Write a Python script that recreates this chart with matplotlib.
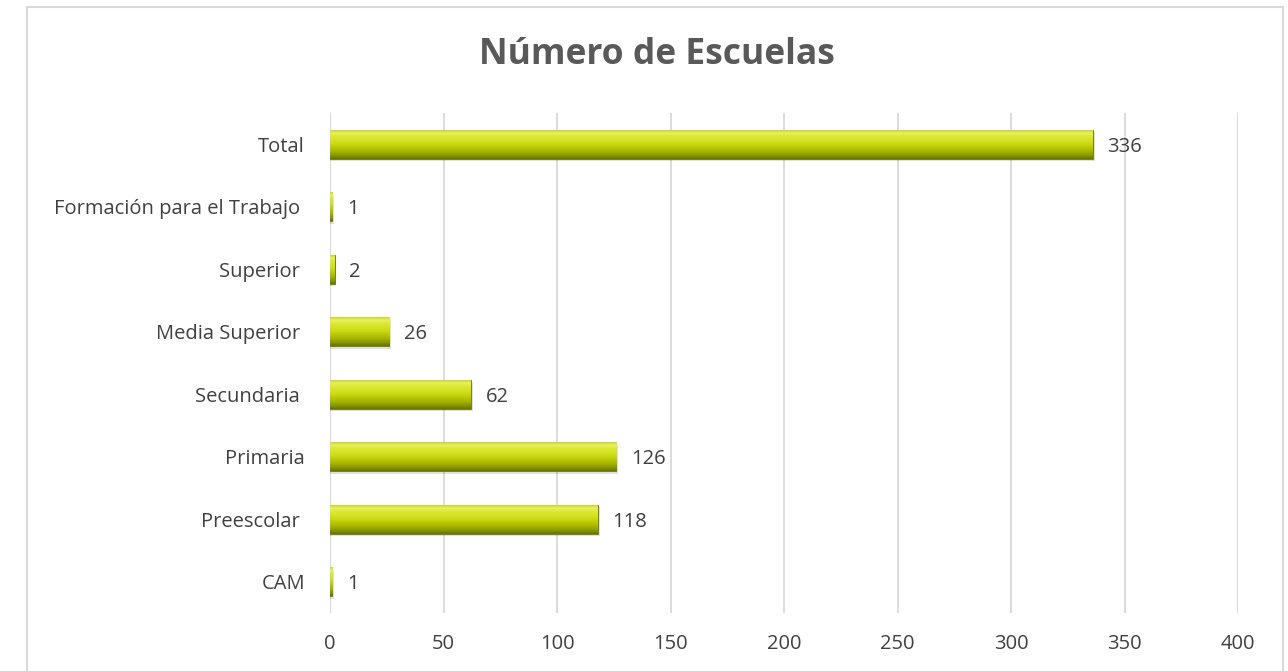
import numpy as np
import matplotlib
matplotlib.use('Agg')
import matplotlib.pyplot as plt
from matplotlib.patches import Rectangle
from matplotlib.colors import LinearSegmentedColormap

categories = ['CAM', 'Preescolar', 'Primaria', 'Secundaria', 'Media Superior',
              'Superior', 'Formación para el Trabajo', 'Total']
schools = [1, 118, 126, 62, 26, 2, 1, 336]
x_ticks = [0, 50, 100, 150, 200, 250, 300, 350, 400]

plt.rcParams['font.family'] = ['Open Sans', 'DejaVu Sans']
text_color = '#404040'

fig = plt.figure(figsize=(12.88, 6.71), dpi=100)
fig.patches.append(Rectangle((27 / 1288, -0.01), (1283 - 27) / 1288, (671 - 7) / 671 + 0.01,
                             transform=fig.transFigure, fill=False,
                             edgecolor='#d9d9d9', linewidth=1.5))
ax = fig.add_axes([330 / 1288, 58 / 671, 908 / 1288, 500 / 671])

y = np.arange(len(categories))
bars = ax.barh(y, schools, height=0.47, color='#b5c400', edgecolor='#6a7800', linewidth=0.6, zorder=3)

# vertical gradient on each bar (dark bottom, bright top, light rim)
cmap = LinearSegmentedColormap.from_list(
    'bar', ['#66740a', '#8b9b00', '#a5b500', '#b8c802', '#c9d914', '#d4e224', '#dce830', '#e6ef66', '#c2d100'])
grad = np.linspace(0, 1, 64).reshape(-1, 1)
for b in bars:
    x0, y0 = b.get_x(), b.get_y()
    w, h = b.get_width(), b.get_height()
    # soft shadow under the bar
    ax.add_patch(Rectangle((x0, y0 - 0.04), w + 0.8, h, facecolor='#000000', alpha=0.12,
                           linewidth=0, zorder=2.5))
    im = ax.imshow(grad, extent=(x0, x0 + w, y0, y0 + h), origin='lower',
                   cmap=cmap, aspect='auto', zorder=3.5)
    im.set_clip_path(b)

for yi, v in zip(y, schools):
    ax.text(v + 6.5, yi, str(v), va='center_baseline', ha='left', fontsize=14.5, color=text_color)

ax.set_xlim(0, 400)
ax.set_ylim(-0.5, len(categories) - 0.5)
ax.set_xticks(x_ticks)
ax.set_yticks(y)
ax.set_yticklabels([c if c in ('Total', 'CAM', 'Primaria') else c + ' ' for c in categories])
ax.tick_params(axis='both', length=0, labelsize=14.5, labelcolor=text_color)
ax.tick_params(axis='x', pad=15)
ax.tick_params(axis='y', pad=18)
ax.grid(axis='x', color='#d9d9d9', linewidth=1.3, zorder=0)
for s in ax.spines.values():
    s.set_visible(False)
ax.axvline(0, color='#d9d9d9', linewidth=1.3, zorder=1)

fig.text(657 / 1288, 1 - 55 / 671, 'Número de Escuelas', ha='center', va='center',
         fontsize=25.5, fontweight='bold', color='#595959')

fig.savefig('out.png', dpi=100)
